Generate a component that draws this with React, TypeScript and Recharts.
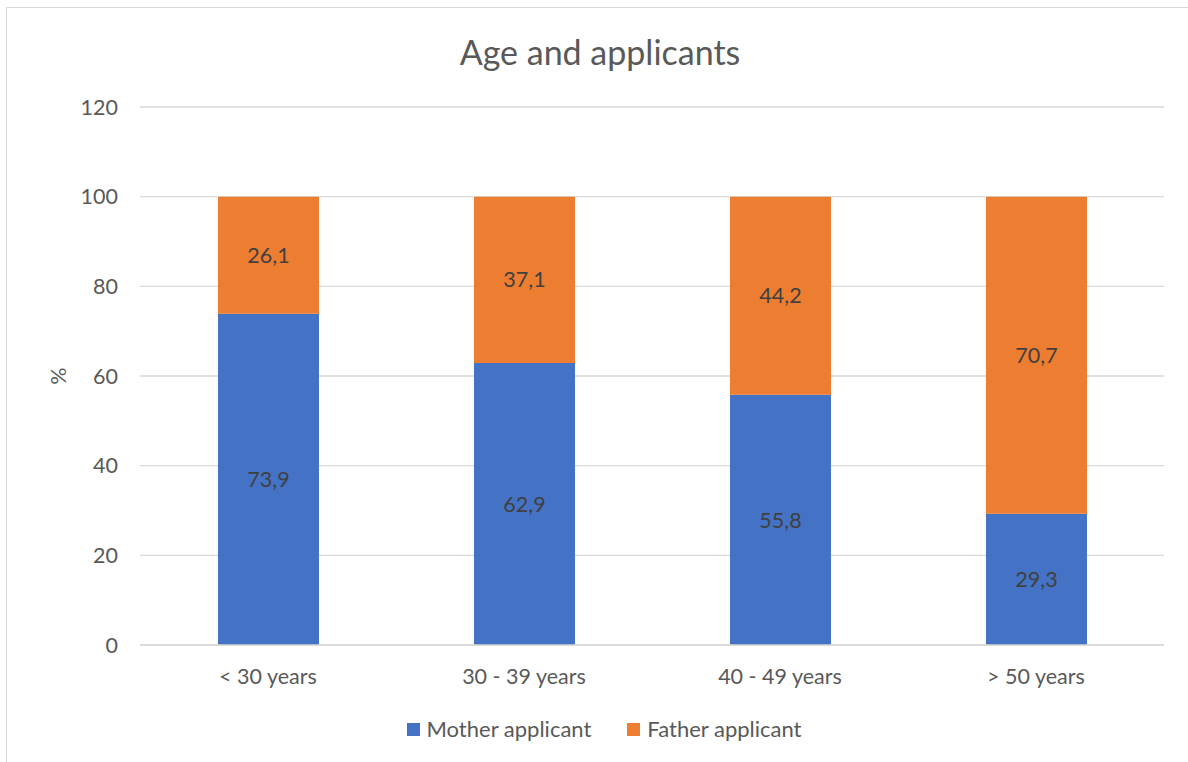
import React from 'react';
import { BarChart, Bar, XAxis, YAxis, CartesianGrid, LabelList } from 'recharts';

const categories = ['< 30 years', '30 - 39 years', '40 - 49 years', '> 50 years'];
const motherValues = [73.9, 62.9, 55.8, 29.3];
const fatherValues = [26.1, 37.1, 44.2, 70.7];
const yTicks = [0, 20, 40, 60, 80, 100, 120];
const seriesNames = ['Mother applicant', 'Father applicant'];
const title = 'Age and applicants';

const data = categories.map((c, i) => ({ name: c, mother: motherValues[i], father: fatherValues[i] }));

const FONT = 'Lato, "Noto Sans", sans-serif';
const FS = 21.5;
const BLUE = '#4472C4';
const ORANGE = '#ED7D31';
const TEXT = '#595959';

const fmt = (v: any) => Number(v).toFixed(1).replace('.', ',');

export default function App() {
  return (
    <div style={{ position: 'fixed', left: 0, top: 0, width: 1188, height: 762, overflow: 'hidden', background: '#fff' }}>
      <div style={{ position: 'absolute', left: 6, top: 7, width: 1300, height: 900, border: '1px solid #d9d9d9', boxSizing: 'border-box' }} />
      <div style={{ position: 'absolute', left: 0, top: 28, width: 1200, textAlign: 'center', fontFamily: FONT, fontSize: 34, color: TEXT, lineHeight: '48px' }}>
        {title}
      </div>
      <div style={{ position: 'absolute', left: 0, top: 0 }}>
        <BarChart width={1188} height={762} data={data} margin={{ top: 107, right: 24, bottom: 0, left: 0 }} barSize={101}>
          <CartesianGrid vertical={false} stroke="#d9d9d9" strokeWidth={1.3} />
          <XAxis
            dataKey="name"
            tickLine={false}
            axisLine={{ stroke: '#d9d9d9', strokeWidth: 1.3 }}
            tickSize={0}
            tickMargin={24}
            height={117}
            tick={{ fill: TEXT, fontSize: FS, fontFamily: FONT }}
          />
          <YAxis
            width={140}
            domain={[0, 120]}
            ticks={yTicks}
            axisLine={false}
            tickLine={false}
            tickSize={0}
            tickMargin={22}
            tick={{ fill: TEXT, fontSize: FS, fontFamily: FONT }}
            label={{
              content: () => (
                <text x={58} y={376} transform="rotate(-90 58 376)" textAnchor="middle" dominantBaseline="central" fill={TEXT} fontSize={FS} fontFamily={FONT}>%</text>
              ),
            }}
          />
          <Bar dataKey="mother" stackId="a" fill={BLUE} isAnimationActive={false}>
            <LabelList dataKey="mother" position="center" formatter={fmt} fill="#404040" fontSize={FS} fontFamily={FONT} />
          </Bar>
          <Bar dataKey="father" stackId="a" fill={ORANGE} isAnimationActive={false}>
            <LabelList dataKey="father" position="center" formatter={fmt} fill="#404040" fontSize={FS} fontFamily={FONT} />
          </Bar>
        </BarChart>
      </div>
      <div style={{ position: 'absolute', left: 0, top: 715, width: 1208, display: 'flex', justifyContent: 'center', fontFamily: FONT, fontSize: 22, color: TEXT, lineHeight: '28px' }}>
        {[BLUE, ORANGE].map((c, i) => (
          <div key={i} style={{ display: 'flex', alignItems: 'center', marginRight: i === 0 ? 36 : 0 }}>
            <span style={{ display: 'inline-block', width: 13, height: 13, background: c, marginRight: 7 }} />
            <span>{seriesNames[i]}</span>
          </div>
        ))}
      </div>
    </div>
  );
}
